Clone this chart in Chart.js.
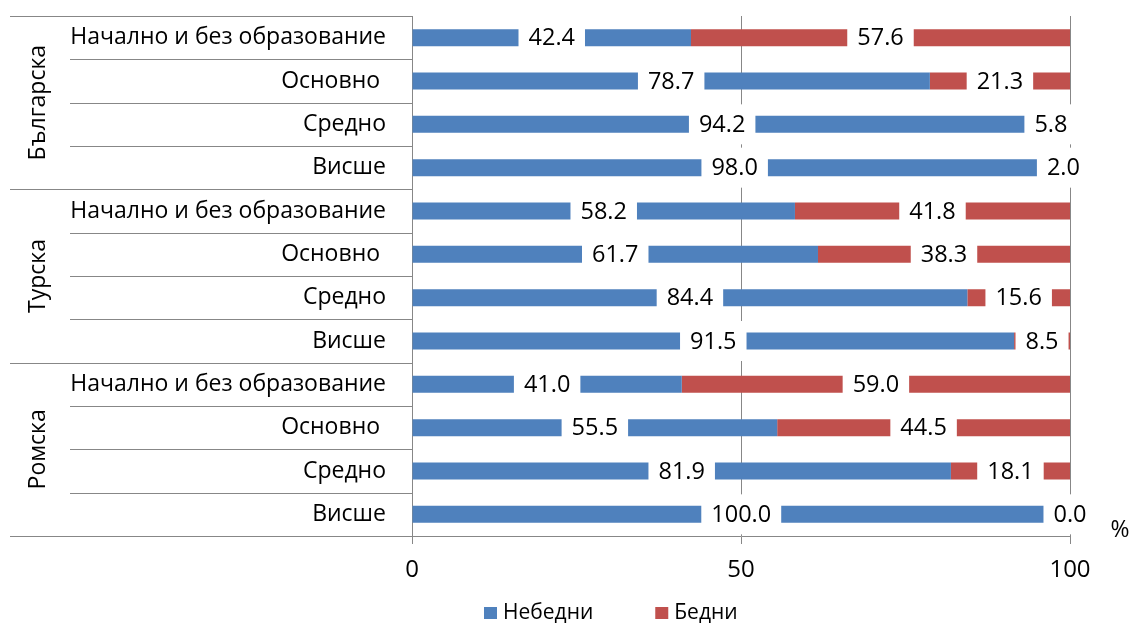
<!DOCTYPE html>
<html>
<head>
<meta charset="utf-8">
<script src="https://cdn.jsdelivr.net/npm/chart.js@4"></script>
<style>
html,body{margin:0;padding:0;background:#fff;}
#wrap{width:1131px;height:623px;position:relative;}
</style>
</head>
<body>
<div id="wrap"><canvas id="c" width="1131" height="623"></canvas></div>
<script>
const categories = ['Начално и без образование','Основно ','Средно','Висше',
                    'Начално и без образование','Основно ','Средно','Висше',
                    'Начално и без образование','Основно ','Средно','Висше'];
const groups = ['Българска','Турска','Ромска'];
const seriesNames = ['Небедни','Бедни'];
const nonPoor = [42.4,78.7,94.2,98.0,58.2,61.7,84.4,91.5,41.0,55.5,81.9,100.0];
const poor = [57.6,21.3,5.8,2.0,41.8,38.3,15.6,8.5,59.0,44.5,18.1,0.0];
const xTickValues = [0,50,100];
const unitLabel = '%';

const FONT = "'Open Sans', sans-serif";
const GRID = '#878787';

const overlay = {
  id: 'overlay',
  afterDatasetsDraw(chart) {
    const ctx = chart.ctx;
    const y = chart.scales.y;
    const area = chart.chartArea;
    // category separators
    ctx.save();
    ctx.strokeStyle = GRID;
    ctx.lineWidth = 1;
    for (let i = 0; i <= categories.length; i++) {
      const py = Math.round(y.getPixelForValue(i - 0.5)) + 0.5;
      const x0 = (i % 4 === 0) ? 10 : 70;
      ctx.beginPath();
      ctx.moveTo(x0, py);
      ctx.lineTo(area.left, py);
      ctx.stroke();
    }
    // group labels
    ctx.fillStyle = '#000';
    ctx.font = "23px " + FONT;
    ctx.textAlign = 'center';
    ctx.textBaseline = 'middle';
    groups.forEach((g, gi) => {
      const top = y.getPixelForValue(gi * 4 - 0.5);
      const bot = y.getPixelForValue(gi * 4 + 3.5);
      ctx.save();
      ctx.translate(38, (top + bot) / 2);
      ctx.rotate(-Math.PI / 2);
      ctx.fillText(g, 0, 0);
      ctx.restore();
    });
    // data labels
    ctx.font = "23.5px " + FONT;
    chart.data.datasets.forEach((ds, di) => {
      const meta = chart.getDatasetMeta(di);
      meta.data.forEach((el, i) => {
        const p = el.getProps(['x', 'base', 'y'], true);
        const cx = (p.x + p.base) / 2;
        const txt = ds.data[i].toFixed(1);
        const w = ctx.measureText(txt).width + 20;
        ctx.fillStyle = '#fff';
        ctx.fillRect(cx - w / 2, p.y - 20, w, 40);
        ctx.fillStyle = '#000';
        ctx.fillText(txt, cx, p.y + 1);
      });
    });
    // unit label
    ctx.font = "23px " + FONT;
    ctx.fillText(unitLabel, 1120, 530);
    // legend
    ctx.font = "21px " + FONT;
    ctx.textAlign = 'left';
    let lx = 484;
    chart.data.datasets.forEach((ds, di) => {
      ctx.fillStyle = ds.backgroundColor;
      ctx.fillRect(lx, 607, 13, 12);
      lx += 19;
      ctx.fillStyle = '#000';
      ctx.fillText(ds.label, lx, 613);
      lx += ctx.measureText(ds.label).width + 62;
    });
    ctx.restore();
  }
};

new Chart(document.getElementById('c'), {
  type: 'bar',
  data: {
    labels: categories,
    datasets: [
      { label: seriesNames[0], data: nonPoor, backgroundColor: '#4F81BD', barPercentage: 0.392, categoryPercentage: 1 },
      { label: seriesNames[1], data: poor, backgroundColor: '#C0504D', barPercentage: 0.392, categoryPercentage: 1 }
    ]
  },
  options: {
    indexAxis: 'y',
    responsive: false,
    animation: false,
    layout: { padding: { top: 16, right: 61, left: 0, bottom: 0 } },
    plugins: { legend: { display: false }, tooltip: { enabled: false } },
    scales: {
      x: {
        stacked: true, min: 0, max: 100,
        afterBuildTicks(s) { s.ticks = xTickValues.map(v => ({ value: v })); },
        afterFit(s) { s.height = 87; },
        ticks: { color: '#000', font: { family: FONT, size: 24 }, padding: 12, maxRotation: 0 },
        grid: { color: GRID, tickLength: 8, drawOnChartArea: true },
        border: { color: GRID }
      },
      y: {
        stacked: true,
        afterFit(s) { s.width = 412; s.paddingTop = 0; s.paddingBottom = 0; },
        ticks: { color: '#000', font: { family: FONT, size: 23 }, padding: 0, autoSkip: false },
        grid: { display: true, drawOnChartArea: false, drawTicks: true, tickLength: 26, tickColor: 'rgba(0,0,0,0)' },
        border: { display: true, color: GRID }
      }
    }
  },
  plugins: [overlay]
});
</script>
</body>
</html>
